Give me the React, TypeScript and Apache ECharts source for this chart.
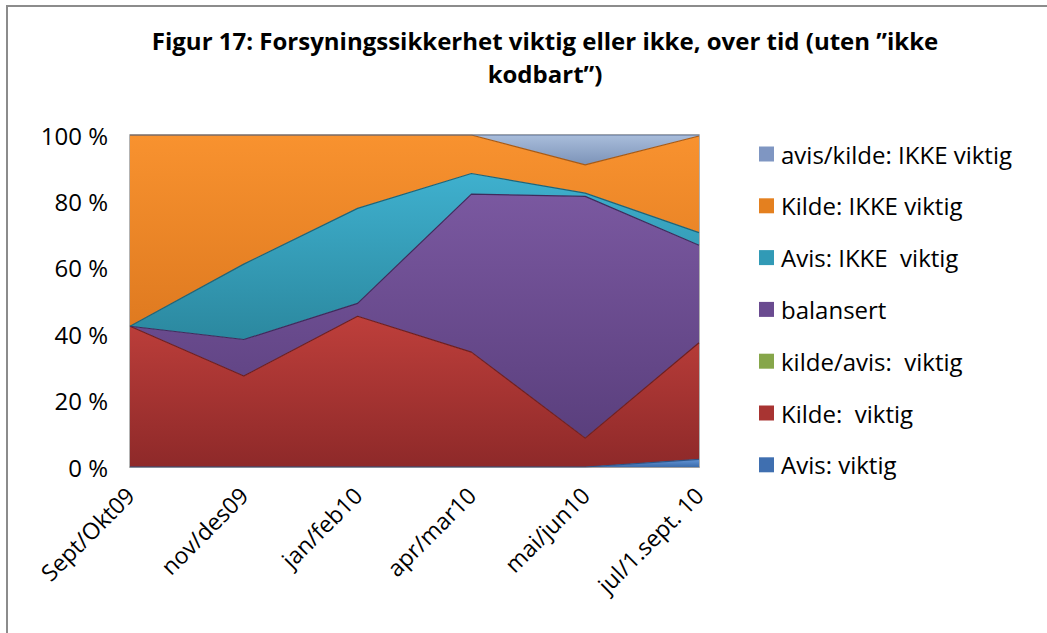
import React, { useEffect, useRef } from "react";
import * as echarts from "echarts";

const categories = ["Sept/Okt09", "nov/des09", "jan/feb10", "apr/mar10", "mai/jun10", "jul/1.sept. 10"];
const avisViktig = [0, 0, 0, 0, 0, 2.3];
const kildeViktig = [42.4, 27.4, 45.4, 34.6, 8.7, 35.1];
const kildeAvisViktig = [0, 0, 0, 0, 0, 0];
const balansert = [0, 11.0, 3.9, 47.6, 72.8, 29.4];
const avisIkkeViktig = [0, 22.7, 28.6, 6.2, 1.0, 3.8];
const kildeIkkeViktig = [57.6, 38.9, 22.1, 11.6, 8.5, 29.1];
const avisKildeIkkeViktig = [0, 0, 0, 0, 9.0, 0.3];
const yTicks = [0, 20, 40, 60, 80, 100];

const seriesDefs = [
  { name: "Avis: viktig", data: avisViktig, top: "#6395D6", bottom: "#3C6CAB", line: "#2C5488", legend: "#3F6FB0" },
  { name: "Kilde:  viktig", data: kildeViktig, top: "#BE3F3B", bottom: "#8E2929", line: "#6E1E1E", legend: "#A83432" },
  { name: "kilde/avis:  viktig", data: kildeAvisViktig, top: "#9BBB59", bottom: "#77933C", line: "#5E7A2E", legend: "#86A64A" },
  { name: "balansert", data: balansert, top: "#7A58A0", bottom: "#5A3F7D", line: "#3F2A5C", legend: "#6A4B90" },
  { name: "Avis: IKKE  viktig", data: avisIkkeViktig, top: "#3FB0CE", bottom: "#2B889F", line: "#1E6478", legend: "#319AB6" },
  { name: "Kilde: IKKE viktig", data: kildeIkkeViktig, top: "#F8922F", bottom: "#DF7A20", line: "#A85A14", legend: "#E4801F" },
  { name: "avis/kilde: IKKE viktig", data: avisKildeIkkeViktig, top: "#A9BDDB", bottom: "#7C93B8", line: "#5A6F92", legend: "#7F96C2" },
];

const FONT = "Open Sans";

export default function App() {
  const ref = useRef<HTMLDivElement>(null);
  useEffect(() => {
    if (!ref.current) return;
    const chart = echarts.init(ref.current, null, { renderer: "svg" });
    const series = seriesDefs.map((s) => ({
      name: s.name,
      type: "line",
      stack: "total",
      data: s.data,
      symbol: "none",
      smooth: false,
      itemStyle: { color: s.legend },
      lineStyle: { color: s.line, width: s.data.every((v) => v === 0) ? 0 : 1.2 },
      areaStyle: {
        opacity: 1,
        color: new echarts.graphic.LinearGradient(0, 0, 0, 1, [
          { offset: 0, color: s.top },
          { offset: 1, color: s.bottom },
        ]),
      },
    }));
    chart.setOption({
      animation: false,
      backgroundColor: "#ffffff",
      graphic: [
        {
          type: "rect",
          shape: { x: 7, y: 6, width: 1100, height: 700 },
          style: { fill: "none", stroke: "#8c8c8c", lineWidth: 2 },
          silent: true,
        },
        {
          type: "text",
          x: 545,
          y: 40,
          style: {
            text: "Figur 17: Forsyningssikkerhet viktig eller ikke, over tid (uten \u201dikke",
            font: `bold 24px ${FONT}`,
            fill: "#000",
            align: "center",
            verticalAlign: "middle",
          },
        },
        {
          type: "text",
          x: 545,
          y: 73,
          style: {
            text: "kodbart\u201d)",
            font: `bold 24px ${FONT}`,
            fill: "#000",
            align: "center",
            verticalAlign: "middle",
          },
        },
      ],
      legend: {
        orient: "vertical",
        left: 754,
        top: 137,
        itemWidth: 15,
        itemHeight: 15,
        itemGap: 27.8,
        icon: "rect",
        data: seriesDefs.map((s) => s.name).reverse(),
        textStyle: { fontFamily: FONT, fontSize: 24, color: "#000", padding: [0, 0, 0, 2] },
      },
      grid: {
        left: 130,
        right: 348,
        top: 135,
        bottom: 166,
        show: true,
        borderColor: "#9a9a9a",
        borderWidth: 1.5,
        containLabel: false,
      },
      xAxis: {
        type: "category",
        data: categories,
        boundaryGap: false,
        axisTick: { show: false },
        axisLine: { show: true, lineStyle: { color: "#9a9a9a", width: 1.5 } },
        axisLabel: {
          rotate: 45,
          interval: 0,
          margin: 24,
          fontFamily: FONT,
          fontSize: 23,
          color: "#000",
        },
      },
      yAxis: {
        type: "value",
        min: yTicks[0],
        max: yTicks[yTicks.length - 1],
        interval: 20,
        splitLine: { show: false },
        axisTick: { show: false },
        axisLine: { show: false },
        axisLabel: {
          formatter: "{value} %",
          margin: 22,
          fontFamily: FONT,
          fontSize: 24,
          color: "#000",
        },
      },
      series,
    });
    return () => chart.dispose();
  }, []);
  return (
    <div
      ref={ref}
      style={{ position: "fixed", left: 0, top: 0, width: 1047, height: 633 }}
    />
  );
}
